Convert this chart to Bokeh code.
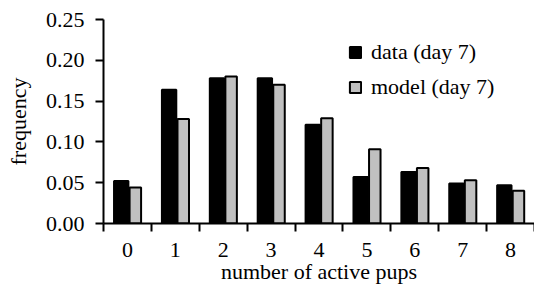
from bokeh.plotting import figure
from bokeh.models import (Range1d, FixedTicker, NumeralTickFormatter, Legend,
                          LegendItem, ColumnDataSource)
from bokeh.transform import dodge
from bokeh.embed import file_html
from bokeh.resources import INLINE

categories = [0, 1, 2, 3, 4, 5, 6, 7, 8]
data_day7 = [0.052, 0.164, 0.178, 0.178, 0.121, 0.057, 0.063, 0.049, 0.047]
model_day7 = [0.044, 0.128, 0.180, 0.170, 0.129, 0.091, 0.068, 0.053, 0.040]
y_ticks = [0.0, 0.05, 0.10, 0.15, 0.20, 0.25]

FONT = "Liberation Serif"
FS = "22px"

p = figure(width=534, height=291, output_backend="svg", toolbar_location=None,
           x_range=Range1d(-0.5, 8.5), y_range=Range1d(0, 0.25),
           min_border_left=103, min_border_right=0, min_border_top=19,
           min_border_bottom=68)
p.grid.visible = False
p.outline_line_color = None

src = ColumnDataSource(dict(x=categories, data=data_day7, model=model_day7))
r1 = p.vbar(x=dodge('x', -0.13, range=p.x_range), top='data', width=0.30,
            fill_color='black', line_color='black', line_width=2, source=src)
r2 = p.vbar(x=dodge('x', 0.165, range=p.x_range), top='model', width=0.24,
            fill_color='#c0c0c0', line_color='black', line_width=2, source=src)

# x axis
xa = p.xaxis[0]
xa.ticker = FixedTicker(ticks=categories,
                        minor_ticks=[c - 0.5 for c in categories] + [categories[-1] + 0.5])
xa.major_tick_out = 8
xa.major_tick_in = 0
xa.major_tick_line_color = None
xa.minor_tick_out = 8
xa.minor_tick_in = 0
xa.minor_tick_line_width = 2
xa.minor_tick_line_color = 'black'
xa.axis_line_width = 2
xa.major_label_standoff = 11
xa.axis_label = "number of active pups"
xa.axis_label_standoff = -1

# y axis
ya = p.yaxis[0]
ya.ticker = FixedTicker(ticks=y_ticks)
ya.formatter = NumeralTickFormatter(format="0.00")
ya.major_tick_out = 8
ya.major_tick_in = 0
ya.major_tick_line_width = 2
ya.minor_tick_line_color = None
ya.axis_line_width = 2
ya.major_label_standoff = 11
ya.axis_label = "frequency"
ya.axis_label_standoff = 12

for ax in (xa, ya):
    ax.major_label_text_font = FONT
    ax.major_label_text_font_size = FS
    ax.major_label_text_color = 'black'
    ax.axis_label_text_font = FONT
    ax.axis_label_text_font_size = FS
    ax.axis_label_text_font_style = "normal"
    ax.axis_label_text_color = 'black'
    ax.axis_line_color = 'black'

legend = Legend(items=[LegendItem(label="data (day 7)", renderers=[r1]),
                       LegendItem(label="model (day 7)", renderers=[r2])],
                location=(245, 123), border_line_color=None,
                background_fill_alpha=0, padding=0, margin=0, spacing=9,
                glyph_width=14, glyph_height=14, label_standoff=9,
                label_height=26, label_text_font=FONT, label_text_font_size=FS,
                label_text_color='black')
p.add_layout(legend)

open("out.html", "w").write(file_html(p, INLINE))
